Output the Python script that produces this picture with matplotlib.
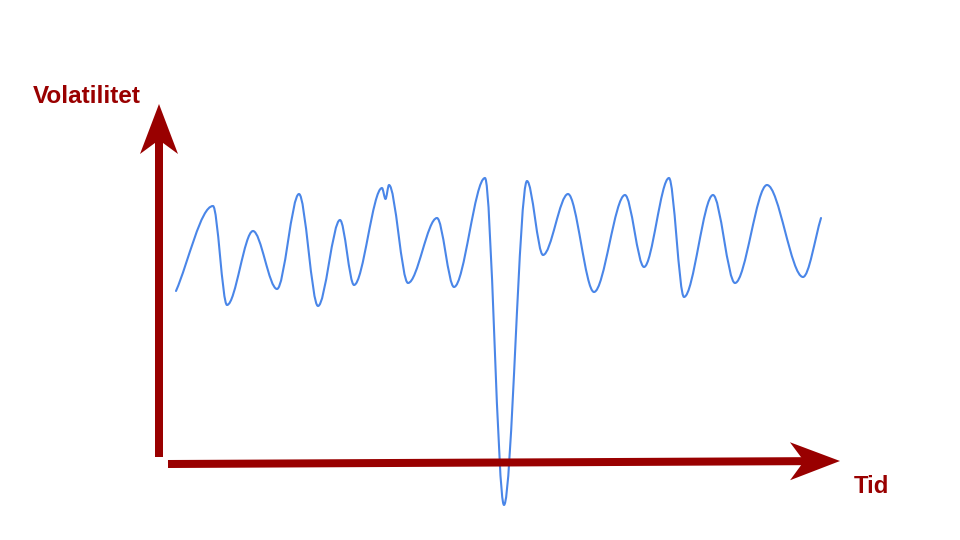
import matplotlib
matplotlib.use('Agg')
import matplotlib.pyplot as plt
from matplotlib.path import Path
from matplotlib.patches import PathPatch, Polygon

# turning points of the schematic volatility curve (time, volatility)
knot_t = [176, 213, 227, 253, 277, 299, 318, 340, 354, 382, 385.5, 389, 408, 437, 454,
          485, 504, 527, 543, 568, 594, 625, 644, 669, 684, 713, 735, 767, 803, 821]
knot_v = [249, 334, 235, 309, 251, 346, 234, 320, 255, 352, 341, 355, 257, 322, 253,
          362, 35, 359, 285, 346, 248, 345, 273, 362, 243, 345, 257, 355, 263, 322]

y_label = 'Volatilitet'
x_label = 'Tid'

red = '#990000'
blue = '#4a86e8'
plt.rcParams['font.family'] = ['Liberation Sans', 'DejaVu Sans']

fig = plt.figure(figsize=(9.6, 5.4), dpi=100)
ax = fig.add_axes([0, 0, 1, 1])
ax.set_xlim(0, 960)
ax.set_ylim(0, 540)
ax.axis('off')

# smooth curve: cubic bezier between turning points, flat tangents at extrema
k = 0.33
n = len(knot_t)
slope_start = (knot_v[1] - knot_v[0]) / (knot_t[1] - knot_t[0])
slope_end = (knot_v[-1] - knot_v[-2]) / (knot_t[-1] - knot_t[-2])
verts = [(knot_t[0], knot_v[0])]
codes = [Path.MOVETO]
for i in range(n - 1):
    t0, v0, t1, v1 = knot_t[i], knot_v[i], knot_t[i + 1], knot_v[i + 1]
    dt = t1 - t0
    s0 = slope_start if i == 0 else 0
    s1 = slope_end if i == n - 2 else 0
    verts += [(t0 + k * dt, v0 + k * dt * s0), (t1 - k * dt, v1 - k * dt * s1), (t1, v1)]
    codes += [Path.CURVE4] * 3
ax.add_patch(PathPatch(Path(verts, codes), fill=False, edgecolor=blue, lw=1.5,
                       capstyle='round', joinstyle='round'))


def arrow(ax, x0, y0, x1, y1, width=8, head_len=50, head_w=38, notch=14):
    dx, dy = x1 - x0, y1 - y0
    length = (dx ** 2 + dy ** 2) ** 0.5
    ux, uy = dx / length, dy / length
    px, py = -uy, ux
    bx, by = x1 - ux * head_len, y1 - uy * head_len
    nx, ny = bx + ux * notch, by + uy * notch
    ax.plot([x0, nx], [y0, ny], color=red, lw=width * 0.72, solid_capstyle='butt')
    head = [(x1, y1),
            (bx + px * head_w / 2, by + py * head_w / 2),
            (nx, ny),
            (bx - px * head_w / 2, by - py * head_w / 2)]
    ax.add_patch(Polygon(head, closed=True, color=red, lw=0))


arrow(ax, 159, 83, 159, 436)
arrow(ax, 168, 76, 840, 79)

ax.text(33, 437, y_label, color=red, fontsize=17.5, fontweight='bold', va='baseline')
ax.text(854, 47, x_label, color=red, fontsize=17.2, fontweight='bold', va='baseline')

fig.savefig('out.png', dpi=100)
